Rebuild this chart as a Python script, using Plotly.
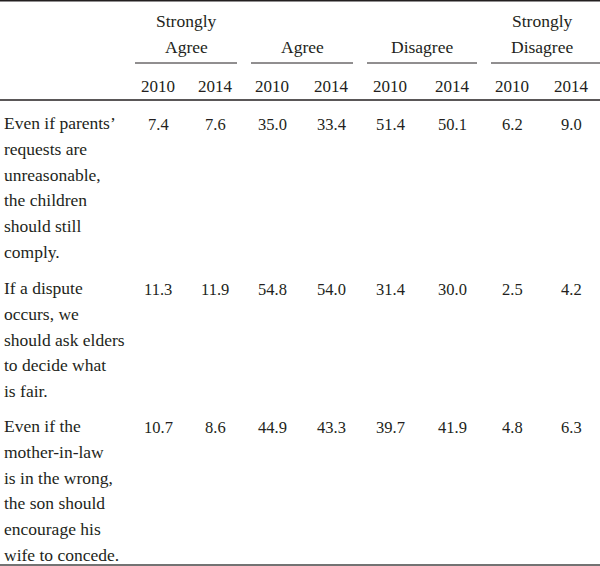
import plotly.graph_objects as go

# ---- data ----
groups = ["Strongly<br>Agree", "Agree", "Disagree", "Strongly<br>Disagree"]
years = ["2010", "2014"]
statements = [
    ["Even if parents’", "requests are", "unreasonable,", "the children", "should still", "comply."],
    ["If a dispute", "occurs, we", "should ask elders", "to decide what", "is fair."],
    ["Even if the", "mother-in-law", "is in the wrong,", "the son should", "encourage his", "wife to concede."],
]
strongly_agree_2010 = [7.4, 11.3, 10.7]
strongly_agree_2014 = [7.6, 11.9, 8.6]
agree_2010 = [35.0, 54.8, 44.9]
agree_2014 = [33.4, 54.0, 43.3]
disagree_2010 = [51.4, 31.4, 39.7]
disagree_2014 = [50.1, 30.0, 41.9]
strongly_disagree_2010 = [6.2, 2.5, 4.8]
strongly_disagree_2014 = [9.0, 4.2, 6.3]

columns = [strongly_agree_2010, strongly_agree_2014, agree_2010, agree_2014,
           disagree_2010, disagree_2014, strongly_disagree_2010, strongly_disagree_2014]

# ---- layout constants ----
W, H = 600, 566
col_x = [158, 215, 272, 331, 390, 452, 512, 571]
group_spans = [(135, 237), (251, 353), (367, 477), (491, 600)]
row_y0 = [123, 288, 426]
line_h = 25.8
FONT = "Liberation Serif"
FS = 17.5
COLOR = "#231f20"

fig = go.Figure()
ann = []
shapes = []

# group headers
for (x0, x1), g in zip(group_spans, groups):
    xc = (x0 + x1) / 2
    if x1 == 600:
        xc = 542
    lines = g.split("<br>")
    ys = [21, 47] if len(lines) == 2 else [47]
    for t, y in zip(lines, ys):
        ann.append(dict(x=xc, y=y, text=t, showarrow=False, xanchor="center", yanchor="middle",
                        font=dict(family=FONT, size=FS, color=COLOR)))
    shapes.append(dict(type="line", x0=x0, x1=x1, y0=63, y1=63, line=dict(color=COLOR, width=1)))

# year headers
for i, x in enumerate(col_x):
    ann.append(dict(x=x, y=86, text=years[i % 2], showarrow=False, xanchor="center", yanchor="middle",
                    font=dict(family=FONT, size=17, color=COLOR)))

# rows
for r, lines in enumerate(statements):
    for k, t in enumerate(lines):
        ann.append(dict(x=2, y=row_y0[r] + k * line_h, text=t, showarrow=False, xanchor="left",
                        yanchor="middle", font=dict(family=FONT, size=FS, color=COLOR)))
    for c, x in enumerate(col_x):
        ann.append(dict(x=x, y=row_y0[r] + 1, text=f"{columns[c][r]:.1f}", showarrow=False,
                        xanchor="center", yanchor="middle",
                        font=dict(family=FONT, size=16.5, color=COLOR)))

# rules
shapes.append(dict(type="line", x0=0, x1=W, y0=0.8, y1=0.8, line=dict(color=COLOR, width=1.6)))
shapes.append(dict(type="line", x0=0, x1=W, y0=100, y1=100, line=dict(color=COLOR, width=1.3)))
shapes.append(dict(type="line", x0=0, x1=W, y0=565, y1=565, line=dict(color="#444", width=1.6)))

fig.update_layout(
    width=W, height=H, margin=dict(l=0, r=0, t=0, b=0),
    paper_bgcolor="white", plot_bgcolor="white",
    xaxis=dict(range=[0, W], visible=False, fixedrange=True),
    yaxis=dict(range=[H, 0], visible=False, fixedrange=True),
    annotations=ann, shapes=shapes, showlegend=False,
)
fig.write_html("out.html", config={"displayModeBar": False},
               post_script="document.body.style.margin='0';document.body.style.overflow='hidden';")
